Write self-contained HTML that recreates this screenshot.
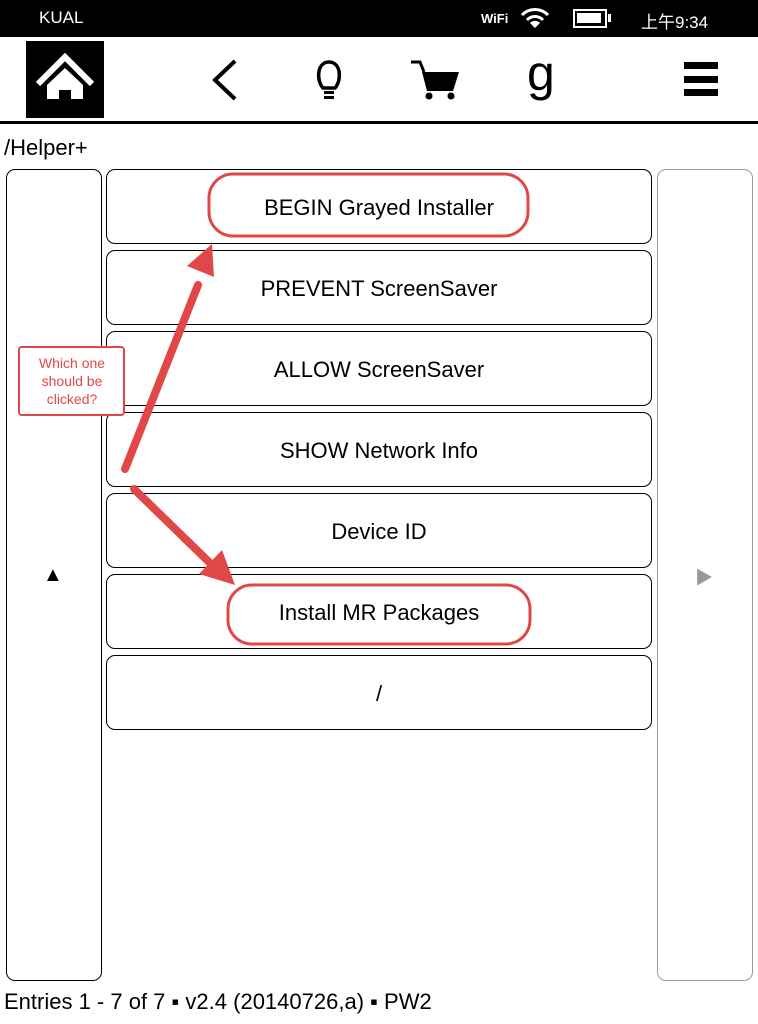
<!DOCTYPE html>
<html><head><meta charset="utf-8"><style>
*{margin:0;padding:0;box-sizing:border-box}
body{width:758px;height:1024px;background:#fff;position:relative;overflow:hidden;font-family:"Liberation Sans","Noto Sans CJK SC",sans-serif;color:#000}
.abs{position:absolute}
.row{position:absolute;left:106px;width:546px;height:75px;border:1.5px solid #000;border-radius:9px;font-size:22px;display:flex;align-items:center;justify-content:center;padding-top:2px}
</style></head><body>
<div class="abs" style="left:0;top:0;width:758px;height:37px;background:#000;color:#fff">
 <div class="abs" style="left:39px;top:8px;font-size:17px">KUAL</div>
 <div class="abs" style="left:481px;top:11px;font-size:13px;font-weight:bold">WiFi</div>
 <svg class="abs" style="left:519px;top:6px" width="32" height="24" viewBox="0 0 32 24"><path d="M3 9 A18 18 0 0 1 29 9" stroke="#fff" stroke-width="3" fill="none"/><path d="M8 14 A11 11 0 0 1 24 14" stroke="#fff" stroke-width="3" fill="none"/><path d="M16 22 L11 17 A7 7 0 0 1 21 17 Z" fill="#fff"/></svg>
 <div class="abs" style="left:573px;top:9px;width:34px;height:19px;border:2.5px solid #fff"><div style="margin:2px;width:24px;height:10px;background:#fff"></div></div>
 <div class="abs" style="left:608px;top:14px;width:3px;height:8px;background:#fff"></div>
 <div class="abs" style="left:641px;top:8px;font-size:17px">上午9:34</div>
</div>
<div class="abs" style="left:26px;top:41px;width:78px;height:77px;background:#000">
 <svg width="78" height="77"><path d="M12 43 L39 16 L66 43" stroke="#fff" stroke-width="6" fill="none"/><path d="M21 44 L39 27 L57 44 L57 58 L45 58 L45 49 L33 49 L33 58 L21 58Z" fill="#fff"/></svg>
</div>
<svg class="abs" style="left:205px;top:58px" width="36" height="44"><path d="M30 3 L10 22 L30 41" stroke="#000" stroke-width="4" fill="none"/></svg>
<svg class="abs" style="left:312px;top:58px" width="34" height="44"><path d="M11 30 C4 22 5 4 17 4 C29 4 30 22 23 30 Z" stroke="#000" stroke-width="3.5" fill="none"/><rect x="12" y="33" width="10" height="3"/><rect x="12" y="38" width="10" height="3"/></svg>
<svg class="abs" style="left:408px;top:58px" width="56" height="44"><path d="M3 4 L12 4 L16 14" stroke="#000" stroke-width="3" fill="none"/><path d="M14 14 L51 14 L45 33 L19 33 Z"/><circle cx="21" cy="38" r="3.5"/><circle cx="43" cy="38" r="3.5"/></svg>
<div class="abs" style="left:527px;top:48px;font-size:50px;line-height:50px">g</div>
<div class="abs" style="left:684px;top:62px;width:34px;height:7px;background:#000"></div>
<div class="abs" style="left:684px;top:76px;width:34px;height:7px;background:#000"></div>
<div class="abs" style="left:684px;top:89px;width:34px;height:7px;background:#000"></div>
<div class="abs" style="left:0;top:121px;width:758px;height:3px;background:#000"></div>
<div class="abs" style="left:4px;top:135px;font-size:22px">/Helper+</div>
<div class="abs" style="left:6px;top:169px;width:96px;height:812px;border:1.5px solid #000;border-radius:9px"></div>
<div class="abs" style="left:43px;top:564px;font-size:20px">▲</div>
<div class="abs" style="left:657px;top:169px;width:96px;height:812px;border:1.5px solid #999;border-radius:9px"></div>
<div class="abs" style="left:695px;top:564px;font-size:18px;color:#999">▶</div>
<div class="row" style="top:169px">BEGIN Grayed Installer</div>
<div class="row" style="top:250px">PREVENT ScreenSaver</div>
<div class="row" style="top:331px">ALLOW ScreenSaver</div>
<div class="row" style="top:412px">SHOW Network Info</div>
<div class="row" style="top:493px">Device ID</div>
<div class="row" style="top:574px">Install MR Packages</div>
<div class="row" style="top:655px">/</div>
<svg class="abs" style="left:0;top:0" width="758" height="1024">
 <rect x="209" y="174" width="319" height="62" rx="24" fill="none" stroke="#e04848" stroke-width="3"/>
 <rect x="228" y="585" width="302" height="59" rx="24" fill="none" stroke="#e04848" stroke-width="3"/>
 <g stroke="#e04848" stroke-width="8" stroke-linecap="round" fill="none"><path d="M125 469 L198 285"/><path d="M134 489 L210 563"/></g>
 <path d="M212 244 L187 266 L214 277 Z" fill="#e04848"/>
 <path d="M235 585 L199 574 L222 550 Z" fill="#e04848"/>
 <rect x="19" y="347" width="105" height="68" rx="3" fill="#fff" stroke="#e04848" stroke-width="2"/>
 <text x="72" y="368" font-family="Liberation Sans" font-size="14" fill="#e04848" text-anchor="middle">Which one</text>
 <text x="72" y="386" font-family="Liberation Sans" font-size="14" fill="#e04848" text-anchor="middle">should be</text>
 <text x="72" y="404" font-family="Liberation Sans" font-size="14" fill="#e04848" text-anchor="middle">clicked?</text>
</svg>
<div class="abs" style="left:4px;top:989px;font-size:22px">Entries 1 - 7 of 7 ▪ v2.4 (20140726,a) ▪ PW2</div>
</body></html>
